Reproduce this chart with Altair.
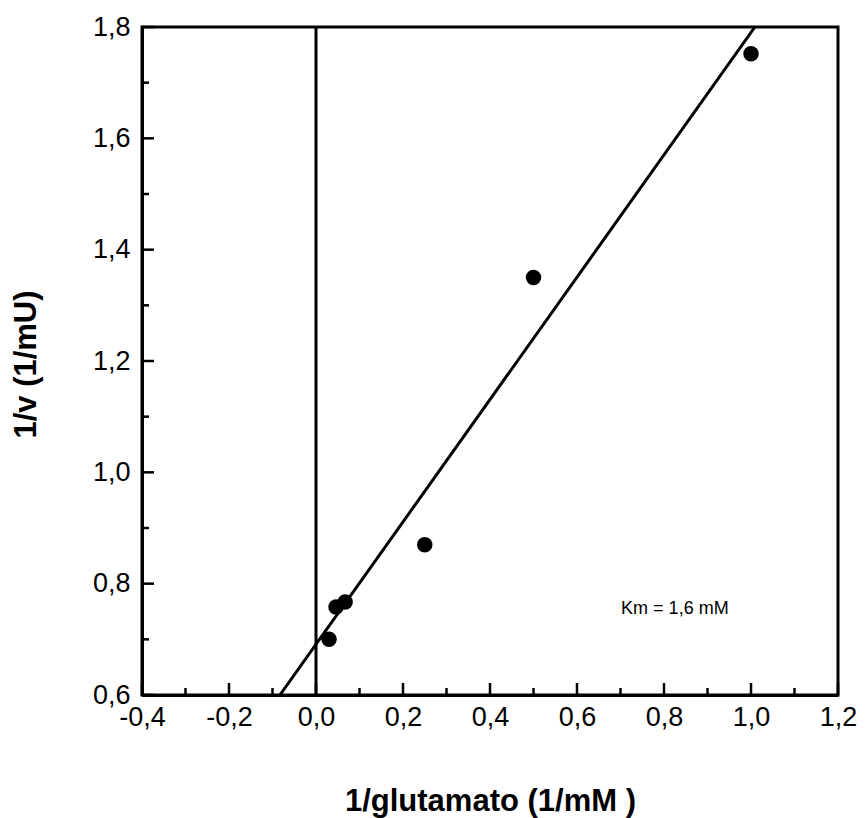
import altair as alt
import pandas as pd

# Data points (1/[glutamato], 1/v)
inv_s = [0.03, 0.046, 0.067, 0.25, 0.5, 1.0]
inv_v = [0.70, 0.758, 0.767, 0.87, 1.35, 1.752]

# Fitted line endpoints (Lineweaver-Burk fit)
fit_x = [-0.083, 1.009]
fit_y = [0.60, 1.80]

x_major = [-0.4, -0.2, 0.0, 0.2, 0.4, 0.6, 0.8, 1.0, 1.2]
x_minor = [-0.3, -0.1, 0.1, 0.3, 0.5, 0.7, 0.9, 1.1]
y_major = [0.6, 0.8, 1.0, 1.2, 1.4, 1.6, 1.8]
y_minor = [0.7, 0.9, 1.1, 1.3, 1.5, 1.7]

FONT = "Liberation Sans"
XDOM = [-0.4, 1.2]
YDOM = [0.6, 1.8]
label_expr = "replace(replace(format(datum.value, '.1f'), '.', ','), '\u2212', '-')"

xs = alt.Scale(domain=XDOM, nice=False, zero=False)
ys = alt.Scale(domain=YDOM, nice=False, zero=False)

pts = pd.DataFrame({"x": inv_s, "y": inv_v})
fit = pd.DataFrame({"x": fit_x, "y": fit_y})

common_axis = dict(labelExpr=label_expr, ticks=False, grid=False,
                   labelFontSize=27, labelFont=FONT, labelColor="black",
                   labelOverlap=False, labelFlush=False,
                   titleFont=FONT, titleFontSize=31, titleFontWeight="bold",
                   titleBaseline="middle", titleColor="black",
                   domainColor="black", domainWidth=3)

base_x = alt.X("x:Q", scale=xs, axis=alt.Axis(
    values=x_major, title="1/glutamato (1/mM )", labelPadding=9,
    titleX=348, titleY=106, **common_axis))
base_y = alt.Y("y:Q", scale=ys, axis=alt.Axis(
    values=y_major, title="1/v (1/mU)", labelPadding=12,
    titleX=-116, titleY=337, **common_axis))

points = alt.Chart(pts).mark_circle(size=240, color="black", opacity=1).encode(x=base_x, y=base_y)

line = alt.Chart(fit).mark_line(color="black", strokeWidth=3, clip=True).encode(
    x=alt.X("x:Q", scale=xs, axis=None), y=alt.Y("y:Q", scale=ys, axis=None))

vline = alt.Chart(pd.DataFrame({"x": [0.0]})).mark_rule(color="black", strokeWidth=3).encode(
    x=alt.X("x:Q", scale=xs, axis=None))

def xticks(vals, length):
    return alt.Chart(pd.DataFrame({"x": vals})).mark_rule(
        strokeWidth=2.5, color="black", y2Offset=-length).encode(
        x=alt.X("x:Q", scale=xs, axis=None),
        y=alt.datum(0.6, scale=ys, axis=None), y2=alt.datum(0.6))

def yticks(vals, length):
    return alt.Chart(pd.DataFrame({"y": vals})).mark_rule(
        strokeWidth=2.5, color="black", x2Offset=length).encode(
        y=alt.Y("y:Q", scale=ys, axis=None),
        x=alt.datum(-0.4, scale=xs, axis=None), x2=alt.datum(-0.4))

km = alt.Chart(pd.DataFrame({"t": ["Km = 1,6 mM"]})).mark_text(
    font=FONT, fontSize=18, color="black", align="center", baseline="middle").encode(
    x=alt.datum(0.825, scale=xs, axis=None), y=alt.datum(0.755, scale=ys, axis=None), text="t:N")

chart = alt.layer(points, line, vline,
                  xticks(x_major, 12), xticks(x_minor, 7),
                  yticks(y_major, 12), yticks(y_minor, 7), km).resolve_axis(
    x="independent", y="independent"
).properties(
    width=696, height=668,
    autosize=alt.AutoSizeParams(type="none"),
    padding={"left": 142, "top": 27, "right": 30, "bottom": 123},
).configure(
    background="white",
    view=alt.ViewConfig(stroke="black", strokeWidth=3),
    axis=alt.AxisConfig(ticks=False, grid=False, labelFlush=False),
)

chart.save("out.html", embed_options={"renderer": "svg", "actions": False})
